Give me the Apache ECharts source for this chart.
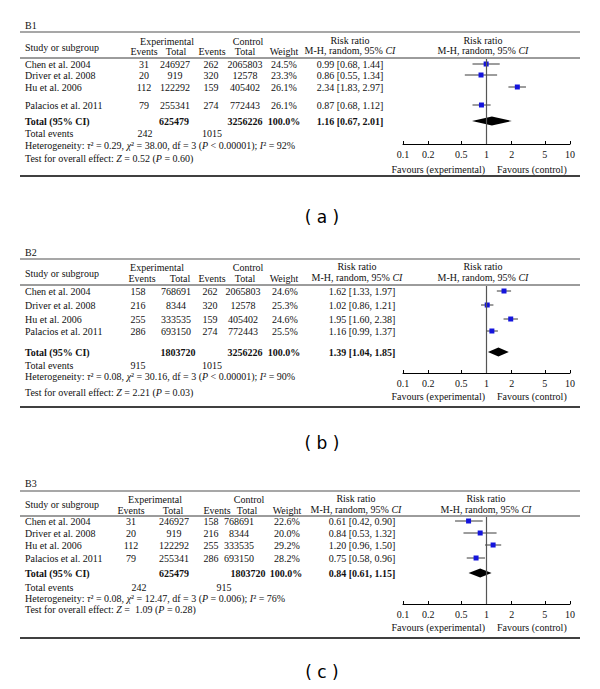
<!DOCTYPE html>
<html><head><meta charset="utf-8">
<script src="https://cdn.jsdelivr.net/npm/echarts@6/dist/echarts.min.js"></script>
<style>html,body{margin:0;padding:0;background:#fff}#c{width:600px;height:689px}</style>
</head><body><div id="c"></div>
<script>
// ---------- data ----------
const studies = ['Chen et al. 2004', 'Driver et al. 2008', 'Hu et al. 2006', 'Palacios et al. 2011'];
const axisTicks = [0.1, 0.2, 0.5, 1, 2, 5, 10];

// B1
const b1ExpEvents = [31, 20, 112, 79];
const b1ExpTotal = [246927, 919, 122292, 255341];
const b1CtrlEvents = [262, 320, 159, 274];
const b1CtrlTotal = [2065803, 12578, 405402, 772443];
const b1Weight = ['24.5%', '23.3%', '26.1%', '26.1%'];
const b1RR = [0.99, 0.86, 2.34, 0.87];
const b1Lower = [0.68, 0.55, 1.83, 0.68];
const b1Upper = [1.44, 1.34, 2.97, 1.12];
const b1Pooled = [1.16, 0.67, 2.01];
const b1Totals = [625479, 3256226, 242, 1015];
const b1Het = ['0.29', '38.00', '3', '<', '0.00001', '92%'];
const b1Test = ['0.52', '0.60'];

// B2
const b2ExpEvents = [158, 216, 255, 286];
const b2ExpTotal = [768691, 8344, 333535, 693150];
const b2CtrlEvents = [262, 320, 159, 274];
const b2CtrlTotal = [2065803, 12578, 405402, 772443];
const b2Weight = ['24.6%', '25.3%', '24.6%', '25.5%'];
const b2RR = [1.62, 1.02, 1.95, 1.16];
const b2Lower = [1.33, 0.86, 1.60, 0.99];
const b2Upper = [1.97, 1.21, 2.38, 1.37];
const b2Pooled = [1.39, 1.04, 1.85];
const b2Totals = [1803720, 3256226, 915, 1015];
const b2Het = ['0.08', '30.16', '3', '<', '0.00001', '90%'];
const b2Test = ['2.21', '0.03'];

// B3
const b3ExpEvents = [31, 20, 112, 79];
const b3ExpTotal = [246927, 919, 122292, 255341];
const b3CtrlEvents = [158, 216, 255, 286];
const b3CtrlTotal = [768691, 8344, 333535, 693150];
const b3Weight = ['22.6%', '20.0%', '29.2%', '28.2%'];
const b3RR = [0.61, 0.84, 1.20, 0.75];
const b3Lower = [0.42, 0.53, 0.96, 0.58];
const b3Upper = [0.90, 1.32, 1.50, 0.96];
const b3Pooled = [0.84, 0.61, 1.15];
const b3Totals = [625479, 1803720, 242, 915];
const b3Het = ['0.08', '12.47', '3', '=', '0.006', '76%'];
const b3Test = [' 1.09', '0.28'];

const panels = [
  {name: 'B1', caption: '( a )', expEv: b1ExpEvents, expTot: b1ExpTotal, ctlEv: b1CtrlEvents, ctlTot: b1CtrlTotal, weight: b1Weight, rr: b1RR, lo: b1Lower, hi: b1Upper, pooled: b1Pooled, totals: b1Totals, het: b1Het, test: b1Test},
  {name: 'B2', caption: '( b )', expEv: b2ExpEvents, expTot: b2ExpTotal, ctlEv: b2CtrlEvents, ctlTot: b2CtrlTotal, weight: b2Weight, rr: b2RR, lo: b2Lower, hi: b2Upper, pooled: b2Pooled, totals: b2Totals, het: b2Het, test: b2Test},
  {name: 'B3', caption: '( c )', expEv: b3ExpEvents, expTot: b3ExpTotal, ctlEv: b3CtrlEvents, ctlTot: b3CtrlTotal, weight: b3Weight, rr: b3RR, lo: b3Lower, hi: b3Upper, pooled: b3Pooled, totals: b3Totals, het: b3Het, test: b3Test}
];

// ---------- layout (pixels) ----------
const layouts = [
  {labelY: 25, topRule: 32, hdr1: 41, hdr2: 51, hdrMid: 47, hdrLine: 58, rows: [64, 75, 87, 105], totalY: 121, eventsY: 133, hetY: 145, testY: 158, bottomRule: 176, axisY: 144, favY: 169, captionY: 217,
   hdrX: [144, 176, 212, 245, 284], rowX: [144, 175, 211, 245, 284], totX: [145, 174, 212, 245, 284], rrX: 350, expHdrX: 167, ctlHdrX: 248, rrHdrX: 350, plotHdrX: 483},
  {labelY: 252, topRule: 259, hdr1: 267, hdr2: 278, hdrMid: 273, hdrLine: 285, rows: [291, 305, 319, 331], totalY: 352, eventsY: 365, hetY: 376, testY: 392, bottomRule: 407, axisY: 373, favY: 396, captionY: 443,
   hdrX: [142, 180, 212, 245, 284], rowX: [138, 176, 210, 243, 285], totX: [138, 178, 212, 245, 284], rrX: 362, expHdrX: 157, ctlHdrX: 248, rrHdrX: 357, plotHdrX: 483},
  {labelY: 483, topRule: 491, hdr1: 499, hdr2: 510, hdrMid: 504, hdrLine: 516, rows: [521, 533, 545, 558], totalY: 573, eventsY: 587, hetY: 598, testY: 609, bottomRule: 638, axisY: 604, favY: 627, captionY: 672,
   hdrX: [131, 173, 217, 247, 287], rowX: [131, 174, 211, 239, 287], totX: [139, 174, 224, 248, 286], rrX: 362, expHdrX: 155, ctlHdrX: 249, rrHdrX: 356, plotHdrX: 486}
];

const SERIF = '"Liberation Serif","DejaVu Serif",serif';
const FS = 10;
const LH = 10;
const INK = '#111';
const rich = {
  i: {fontFamily: SERIF, fontSize: FS, fontStyle: 'italic', fill: INK, lineHeight: LH},
  r: {fontFamily: SERIF, fontSize: FS, fill: INK, lineHeight: LH}
};

function txt(x, y, text, align, extra) {
  const style = Object.assign({
    text: text, fill: INK, fontFamily: SERIF, fontSize: FS, lineHeight: LH,
    align: align || 'left', verticalAlign: 'middle',
    textAlign: align || 'left', textVerticalAlign: 'middle', rich: rich
  }, extra || {});
  return {type: 'text', x: x, y: y, silent: true, style: style};
}
function hline(x1, x2, y, color, w) {
  return {type: 'line', silent: true, shape: {x1: x1, y1: y, x2: x2, y2: y}, style: {stroke: color, lineWidth: w}};
}
const f2 = v => v.toFixed(2);
const ciText = (r, l, h) => f2(r) + ' [' + f2(l) + ', ' + f2(h) + ']';
const BOLD = {fontWeight: 'bold'};

const graphics = [];
const grids = [], xAxes = [], yAxes = [], series = [];

panels.forEach((p, k) => {
  const L = layouts[k];
  // label and rules
  graphics.push(txt(25, L.labelY, p.name, 'left'));
  graphics.push(hline(20, 580, L.topRule, '#8a8a8a', 1.6));
  graphics.push(hline(20, 580, L.hdrLine, '#222', 0.9));
  graphics.push(hline(20, 580, L.bottomRule, '#000', 1.4));
  // header
  graphics.push(txt(25, L.hdrMid, 'Study or subgroup', 'left'));
  graphics.push(txt(L.expHdrX, L.hdr1, 'Experimental', 'center'));
  graphics.push(txt(L.ctlHdrX, L.hdr1, 'Control', 'center'));
  graphics.push(txt(L.hdrX[0], L.hdr2, 'Events', 'center'));
  graphics.push(txt(L.hdrX[1], L.hdr2, 'Total', 'center'));
  graphics.push(txt(L.hdrX[2], L.hdr2, 'Events', 'center'));
  graphics.push(txt(L.hdrX[3], L.hdr2, 'Total', 'center'));
  graphics.push(txt(L.hdrX[4], L.hdr2, 'Weight', 'center'));
  graphics.push(txt(L.rrHdrX, L.hdr1 - 1, 'Risk ratio', 'center'));
  graphics.push(txt(L.rrHdrX, L.hdr2 - 1, '{r|M-H, random, 95% }{i|CI}', 'center'));
  graphics.push(txt(L.plotHdrX, L.hdr1 - 1, 'Risk ratio', 'center'));
  graphics.push(txt(L.plotHdrX, L.hdr2 - 1, '{r|M-H, random, 95% }{i|CI}', 'center'));
  // study rows
  studies.forEach((s, i) => {
    const y = L.rows[i];
    graphics.push(txt(25, y, s, 'left'));
    graphics.push(txt(L.rowX[0], y, String(p.expEv[i]), 'center'));
    graphics.push(txt(L.rowX[1], y, String(p.expTot[i]), 'center'));
    graphics.push(txt(L.rowX[2], y, String(p.ctlEv[i]), 'center'));
    graphics.push(txt(L.rowX[3], y, String(p.ctlTot[i]), 'center'));
    graphics.push(txt(L.rowX[4], y, p.weight[i], 'center'));
    graphics.push(txt(L.rrX, y, ciText(p.rr[i], p.lo[i], p.hi[i]), 'center'));
  });
  // total row
  graphics.push(txt(25, L.totalY, 'Total (95% CI)', 'left', BOLD));
  graphics.push(txt(L.totX[1], L.totalY, String(p.totals[0]), 'center', BOLD));
  graphics.push(txt(L.totX[3], L.totalY, String(p.totals[1]), 'center', BOLD));
  graphics.push(txt(L.totX[4], L.totalY, '100.0%', 'center', BOLD));
  graphics.push(txt(L.rrX, L.totalY, ciText(p.pooled[0], p.pooled[1], p.pooled[2]), 'center', BOLD));
  // total events
  graphics.push(txt(25, L.eventsY, 'Total events', 'left'));
  graphics.push(txt(L.totX[0], L.eventsY, String(p.totals[2]), 'center'));
  graphics.push(txt(L.totX[2], L.eventsY, String(p.totals[3]), 'center'));
  // heterogeneity / test
  const h = p.het;
  graphics.push(txt(25, L.hetY,
    '{r|Heterogeneity: }{i|τ}{r|² = ' + h[0] + ', }{i|χ}{r|² = ' + h[1] + ', df = ' + h[2] + ' (}{i|P}{r| ' + h[3] + ' ' + h[4] + '); }{i|I}{r|² = ' + h[5] + '}', 'left'));
  graphics.push(txt(25, L.testY,
    '{r|Test for overall effect: }{i|Z}{r| = ' + p.test[0] + ' (}{i|P}{r| = ' + p.test[1] + ')}', 'left'));
  // favours
  graphics.push(txt(485, L.favY, 'Favours (experimental)', 'right'));
  graphics.push(txt(497, L.favY, 'Favours (control)', 'left'));
  // caption
  graphics.push(txt(322, L.captionY, p.caption, 'center', {fontFamily: '"DejaVu Sans",sans-serif', fontSize: 17, lineHeight: 20, fill: '#000'}));

  // forest plot
  const top = L.hdrLine + 1;
  grids.push({left: 403, width: 167, top: top, height: L.axisY - top, containLabel: false});
  xAxes.push({
    type: 'log', logBase: 10, min: 0.1, max: 10, gridIndex: k, position: 'bottom',
    axisLine: {show: true, onZero: false, lineStyle: {color: '#000', width: 1}},
    axisTick: {show: true, inside: true, length: 3, customValues: axisTicks, lineStyle: {color: '#000', width: 1}},
    axisLabel: {show: true, customValues: axisTicks, margin: 5, color: INK, fontFamily: SERIF, fontSize: FS,
      formatter: v => String(+(+v).toPrecision(3))},
    splitLine: {show: false}, minorTick: {show: false}, minorSplitLine: {show: false}
  });
  yAxes.push({type: 'value', gridIndex: k, inverse: true, min: top, max: L.axisY, show: false});

  series.push({
    type: 'custom', xAxisIndex: k, yAxisIndex: k, silent: true, clip: false,
    data: p.rr.map((v, i) => [v, p.lo[i], p.hi[i], L.rows[i]]),
    encode: {x: [0, 1, 2], y: 3},
    renderItem: function (params, api) {
      const y = api.value(3);
      const a = api.coord([api.value(1), y]);
      const b = api.coord([api.value(2), y]);
      const c = api.coord([api.value(0), y]);
      const s = 5;
      return {type: 'group', children: [
        {type: 'line', shape: {x1: a[0], y1: a[1], x2: b[0], y2: b[1]}, style: {stroke: '#3a3a3a', lineWidth: 1}},
        {type: 'rect', shape: {x: c[0] - s / 2, y: c[1] - s / 2, width: s, height: s}, style: {fill: '#1414dc'}}
      ]};
    },
    markLine: {
      silent: true, symbol: ['none', 'none'], label: {show: false}, animation: false,
      lineStyle: {color: '#555', width: 1.2, type: 'solid'},
      data: [{xAxis: 1}]
    },
    z: 3
  });
  series.push({
    type: 'custom', xAxisIndex: k, yAxisIndex: k, silent: true, clip: false,
    data: [[p.pooled[0], p.pooled[1], p.pooled[2], L.totalY]],
    encode: {x: [0, 1, 2], y: 3},
    renderItem: function (params, api) {
      const y = api.value(3);
      const l = api.coord([api.value(1), y]);
      const r = api.coord([api.value(2), y]);
      const c = api.coord([api.value(0), y]);
      const hh = 4.5;
      return {type: 'polygon', shape: {points: [[l[0], l[1]], [c[0], c[1] - hh], [r[0], r[1]], [c[0], c[1] + hh]]}, style: {fill: '#000'}};
    },
    z: 4
  });
});

const chart = echarts.init(document.getElementById('c'), null, {renderer: 'svg'});
chart.setOption({
  backgroundColor: '#fff',
  animation: false,
  grid: grids,
  xAxis: xAxes,
  yAxis: yAxes,
  series: series,
  graphic: {elements: graphics}
});
</script>
</body></html>
